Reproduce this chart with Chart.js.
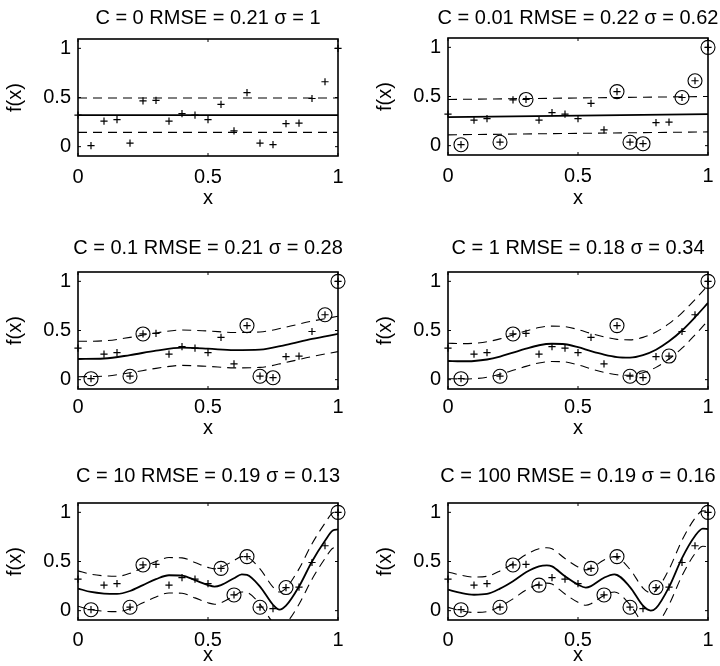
<!DOCTYPE html>
<html>
<head>
<meta charset="utf-8">
<script src="https://cdn.jsdelivr.net/npm/chart.js@4.4.1/dist/chart.umd.min.js"></script>
<style>
  html, body { margin: 0; padding: 0; background: #fff; overflow: hidden; width: 720px; height: 666px; }
  canvas { position: absolute; }
</style>
</head>
<body>
<canvas id="p0"></canvas>
<canvas id="p1"></canvas>
<canvas id="p2"></canvas>
<canvas id="p3"></canvas>
<canvas id="p4"></canvas>
<canvas id="p5"></canvas>
<script>
// training data (same in every panel)
const xData = [0, 0.05, 0.1, 0.15, 0.2, 0.25, 0.3, 0.35, 0.4, 0.45, 0.5, 0.55, 0.6, 0.65, 0.7, 0.75, 0.8, 0.85, 0.9, 0.95, 1];
const yData = [0.32, 0.01, 0.26, 0.275, 0.035, 0.465, 0.47, 0.26, 0.335, 0.32, 0.275, 0.43, 0.16, 0.55, 0.035, 0.02, 0.235, 0.24, 0.49, 0.66, 1.0];

const titles = [
  'C = 0 RMSE = 0.21 σ = 1',
  'C = 0.01 RMSE = 0.22 σ = 0.62',
  'C = 0.1 RMSE = 0.21 σ = 0.28',
  'C = 1 RMSE = 0.18 σ = 0.34',
  'C = 10 RMSE = 0.19 σ = 0.13',
  'C = 100 RMSE = 0.19 σ = 0.16'
];

// indices of circled points (support vectors)
const sv0 = [];
const sv1 = [1, 4, 6, 13, 14, 15, 18, 19, 20];
const sv2 = [1, 4, 5, 13, 14, 15, 19, 20];
const sv3 = [1, 4, 5, 13, 14, 15, 17, 20];
const sv4 = [1, 4, 5, 11, 12, 13, 14, 16, 20];
const sv5 = [1, 4, 5, 7, 11, 12, 13, 14, 16, 20];

// fitted curves and tube edges
const fitX0 = [0, 1];
const fit0 = [0.32, 0.32];
const up0 = [0.495, 0.495];
const lo0 = [0.145, 0.145];

const fitX1 = [0, 1];
const fit1 = [0.29, 0.32];
const up1 = [0.47, 0.5];
const lo1 = [0.11, 0.14];

const fitX2 = [0, 0.1, 0.2, 0.3, 0.4, 0.5, 0.6, 0.7, 0.8, 0.9, 1];
const fit2 = [0.21, 0.215, 0.25, 0.295, 0.325, 0.315, 0.30, 0.305, 0.355, 0.415, 0.465];
const up2 = [0.39, 0.395, 0.43, 0.475, 0.505, 0.495, 0.48, 0.485, 0.535, 0.595, 0.645];
const lo2 = [0.03, 0.035, 0.07, 0.115, 0.145, 0.135, 0.12, 0.125, 0.175, 0.235, 0.285];

const fitX3 = [0, 0.05, 0.1, 0.15, 0.2, 0.25, 0.3, 0.35, 0.4, 0.45, 0.5, 0.55, 0.6, 0.65, 0.7, 0.75, 0.8, 0.85, 0.9, 0.95, 1];
const fit3 = [0.19, 0.187, 0.19, 0.205, 0.235, 0.275, 0.315, 0.35, 0.365, 0.36, 0.33, 0.29, 0.255, 0.23, 0.225, 0.25, 0.305, 0.39, 0.50, 0.635, 0.78];
const up3 = [0.37, 0.367, 0.37, 0.385, 0.415, 0.455, 0.495, 0.53, 0.545, 0.54, 0.51, 0.47, 0.435, 0.41, 0.405, 0.43, 0.485, 0.57, 0.68, 0.815, 0.96];
const lo3 = [0.01, 0.007, 0.01, 0.025, 0.055, 0.095, 0.135, 0.17, 0.185, 0.18, 0.15, 0.11, 0.075, 0.05, 0.045, 0.07, 0.125, 0.21, 0.32, 0.455, 0.6];

const fitX4 = [0, 0.05, 0.1, 0.15, 0.2, 0.25, 0.3, 0.35, 0.4, 0.45, 0.5, 0.525, 0.55, 0.6, 0.63, 0.65, 0.7, 0.75, 0.775, 0.8, 0.85, 0.9, 0.95, 0.98, 1];
const fit4 = [0.225, 0.19, 0.174, 0.17, 0.20, 0.26, 0.32, 0.36, 0.357, 0.31, 0.26, 0.245, 0.26, 0.33, 0.37, 0.365, 0.245, 0.06, 0.01, 0.05, 0.245, 0.50, 0.71, 0.815, 0.826];
const up4 = [0.405, 0.37, 0.354, 0.35, 0.38, 0.44, 0.50, 0.54, 0.537, 0.49, 0.44, 0.425, 0.44, 0.51, 0.55, 0.545, 0.425, 0.24, 0.19, 0.23, 0.425, 0.68, 0.89, 0.995, 1.006];
const lo4 = [0.045, 0.01, -0.006, -0.01, 0.02, 0.08, 0.14, 0.18, 0.177, 0.13, 0.08, 0.065, 0.08, 0.15, 0.19, 0.185, 0.065, -0.12, -0.17, -0.13, 0.065, 0.32, 0.53, 0.635, 0.646];

const fitX5 = [0, 0.05, 0.1, 0.15, 0.2, 0.25, 0.3, 0.35, 0.38, 0.4, 0.45, 0.5, 0.53, 0.55, 0.6, 0.64, 0.7, 0.75, 0.78, 0.8, 0.85, 0.9, 0.95, 0.98, 1];
const fit5 = [0.214, 0.18, 0.162, 0.17, 0.224, 0.30, 0.39, 0.45, 0.46, 0.45, 0.35, 0.265, 0.235, 0.25, 0.335, 0.37, 0.24, 0.05, 0.0, 0.025, 0.24, 0.535, 0.76, 0.835, 0.83];
const up5 = [0.394, 0.36, 0.342, 0.35, 0.404, 0.48, 0.57, 0.63, 0.64, 0.63, 0.53, 0.445, 0.415, 0.43, 0.515, 0.55, 0.42, 0.23, 0.18, 0.205, 0.42, 0.715, 0.94, 1.015, 1.01];
const lo5 = [0.034, 0.0, -0.018, -0.01, 0.044, 0.12, 0.21, 0.27, 0.28, 0.27, 0.17, 0.085, 0.055, 0.07, 0.155, 0.19, 0.06, -0.13, -0.18, -0.155, 0.06, 0.355, 0.58, 0.655, 0.65];

const xTicks = [0, 0.5, 1];
const yTicks = [0, 0.5, 1];
const yMin = -0.095, yMax = 1.095;

const panels = [
  { x: fitX0, fit: fit0, up: up0, lo: lo0, sv: sv0 },
  { x: fitX1, fit: fit1, up: up1, lo: lo1, sv: sv1 },
  { x: fitX2, fit: fit2, up: up2, lo: lo2, sv: sv2 },
  { x: fitX3, fit: fit3, up: up3, lo: lo3, sv: sv3 },
  { x: fitX4, fit: fit4, up: up4, lo: lo4, sv: sv4 },
  { x: fitX5, fit: fit5, up: up5, lo: lo5, sv: sv5 }
];

// canvas placement; an empty right axis as wide as the left one keeps the title centred on the box
const place = [
  { cx: 0,   cy: 0,   h: 230, left: 78, top: 39, bottom: 156, titleMid: 18.3, xTitleY: 198, tickPad: 9 },
  { cx: 366, cy: 0,   h: 230, left: 82, top: 38, bottom: 155, titleMid: 18.3, xTitleY: 198, tickPad: 9 },
  { cx: 0,   cy: 230, h: 230, left: 78, top: 42, bottom: 159, titleMid: 18.3, xTitleY: 198, tickPad: 6 },
  { cx: 366, cy: 230, h: 230, left: 82, top: 42, bottom: 159, titleMid: 18.3, xTitleY: 198, tickPad: 6 },
  { cx: 0,   cy: 460, h: 206, left: 78, top: 43, bottom: 160, titleMid: 16.7, xTitleY: 195.7, tickPad: 8 },
  { cx: 366, cy: 460, h: 206, left: 82, top: 43, bottom: 160, titleMid: 16.7, xTitleY: 195.7, tickPad: 8 }
];
const boxW = 260;

Chart.defaults.font.family = "'Liberation Sans', Arial, sans-serif";
Chart.defaults.font.size = 20;
Chart.defaults.color = '#000';

const FONT = { size: 20, weight: 'normal', lineHeight: 1.2 };
const HALF = 12;
const DASH = [9, 6];

function pts(xs, ys) {
  return xs.map((x, i) => ({ x: x, y: ys[i] }));
}

// box with inward ticks on all four sides
const boxFrame = {
  id: 'boxFrame',
  afterDraw(chart) {
    const ctx = chart.ctx, a = chart.chartArea;
    const sx = chart.scales.x, sy = chart.scales.y;
    ctx.save();
    ctx.strokeStyle = '#000';
    ctx.lineWidth = 1;
    ctx.beginPath();
    xTicks.forEach(v => {
      const px = sx.getPixelForValue(v);
      ctx.moveTo(px, a.bottom); ctx.lineTo(px, a.bottom - 3);
      ctx.moveTo(px, a.top); ctx.lineTo(px, a.top + 3);
    });
    yTicks.forEach(v => {
      const py = sy.getPixelForValue(v);
      ctx.moveTo(a.left, py); ctx.lineTo(a.left + 3, py);
      ctx.moveTo(a.right, py); ctx.lineTo(a.right - 3, py);
    });
    ctx.stroke();
    ctx.lineWidth = 1.6;
    ctx.strokeRect(a.left, a.top, a.right - a.left, a.bottom - a.top);
    ctx.restore();
  }
};

panels.forEach((p, i) => {
  const L = place[i];
  const cv = document.getElementById('p' + i);
  cv.width = boxW + 2 * L.left;
  cv.height = L.h;
  cv.style.left = L.cx + 'px';
  cv.style.top = L.cy + 'px';

  new Chart(cv, {
    type: 'line',
    data: {
      datasets: [
        { data: pts(p.x, p.fit), borderColor: '#000', borderWidth: 1.8, pointRadius: 0, cubicInterpolationMode: 'monotone' },
        { data: pts(p.x, p.up), borderColor: '#000', borderWidth: 1.1, borderDash: DASH, pointRadius: 0, cubicInterpolationMode: 'monotone' },
        { data: pts(p.x, p.lo), borderColor: '#000', borderWidth: 1.1, borderDash: DASH, pointRadius: 0, cubicInterpolationMode: 'monotone' },
        { data: pts(xData, yData), showLine: false, pointStyle: 'cross', pointRadius: 3.6, borderColor: '#000', pointBorderWidth: 1.2, clip: false },
        { data: p.sv.map(k => ({ x: xData[k], y: yData[k] })), showLine: false, pointStyle: 'circle', pointRadius: 7,
          borderColor: '#000', pointBackgroundColor: 'rgba(0,0,0,0)', pointBorderWidth: 1.1, clip: false }
      ]
    },
    options: {
      responsive: false,
      animation: false,
      devicePixelRatio: 1,
      events: [],
      layout: { padding: 0 },
      plugins: {
        legend: { display: false },
        tooltip: { enabled: false },
        title: {
          display: true,
          text: titles[i],
          font: FONT,
          padding: { top: L.titleMid - HALF, bottom: L.top - L.titleMid - HALF }
        }
      },
      scales: {
        x: {
          type: 'linear', min: 0, max: 1,
          afterBuildTicks: s => { s.ticks = xTicks.map(v => ({ value: v })); },
          afterFit: s => { s.height = L.h - L.bottom; },
          grid: { display: false, drawTicks: false },
          border: { display: false },
          ticks: { padding: L.tickPad, maxRotation: 0, autoSkip: false, font: FONT, callback: v => String(v) },
          title: { display: true, text: 'x', font: FONT, padding: { top: 0, bottom: L.h - L.xTitleY - HALF } }
        },
        y: {
          type: 'linear', min: yMin, max: yMax,
          afterBuildTicks: s => { s.ticks = yTicks.map(v => ({ value: v })); },
          afterFit: s => { s.width = L.left; },
          grid: { display: false, drawTicks: false },
          border: { display: false },
          ticks: { padding: 7, autoSkip: false, font: FONT, callback: v => String(v) },
          title: { display: true, text: 'f(x)', font: FONT, padding: { top: L.left - 63 - HALF, bottom: 0 } }
        },
        yPad: {
          type: 'linear', position: 'right', min: yMin, max: yMax,
          afterFit: s => { s.width = L.left; },
          grid: { display: false, drawTicks: false },
          border: { display: false },
          ticks: { display: false }
        }
      }
    },
    plugins: [boxFrame]
  });
});
</script>
</body>
</html>
